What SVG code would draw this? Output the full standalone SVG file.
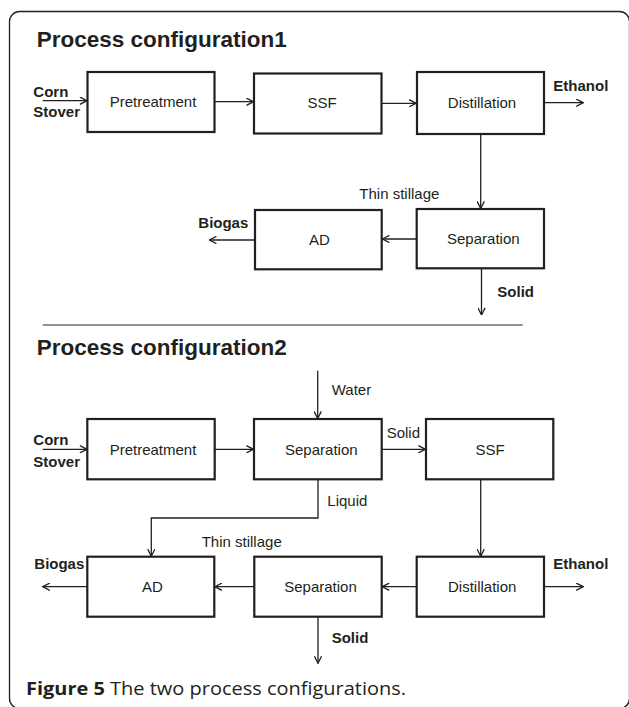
<svg xmlns="http://www.w3.org/2000/svg" width="629" height="707" viewBox="0 0 629 707">
<style>
.box{fill:#fff;stroke:#231f20;stroke-width:2.2}
.lbl{font-family:"Liberation Sans",Arial,sans-serif;font-size:15px;fill:#231f20}
.b{font-weight:bold}
.mid{text-anchor:middle}
.title{font-family:"Liberation Sans",Arial,sans-serif;font-size:22.5px;font-weight:bold;fill:#231f20}
.con{fill:none;stroke:#231f20;stroke-width:1.3;marker-end:url(#ah)}
</style>
<defs>
<marker id="ah" markerUnits="userSpaceOnUse" viewBox="0 0 8 8" refX="7.6" refY="4" markerWidth="8" markerHeight="8" orient="auto">
<path d="M0.5,0.4 L7.6,4 L0.5,7.6" fill="none" stroke="#231f20" stroke-width="1.3"/>
</marker>
</defs>
<rect x="9.5" y="11.5" width="620" height="697" rx="10" ry="10" fill="none" stroke="#231f20" stroke-width="1.3"/>
<text class="title" x="36.7" y="46.7">Process configuration1</text>
<text class="title" x="36.7" y="355">Process configuration2</text>
<line x1="42.7" y1="325" x2="522.7" y2="325" stroke="#6d6e71" stroke-width="1.4"/>

<g id="connectors">
<line class="con" x1="42.7" y1="100.7" x2="87" y2="100.7"/>
<line class="con" x1="214.7" y1="101.7" x2="253.5" y2="101.7"/>
<line class="con" x1="381.7" y1="103.3" x2="416.2" y2="103.3"/>
<line class="con" x1="544" y1="102.7" x2="583.3" y2="102.7"/>
<line class="con" x1="480.7" y1="134" x2="480.7" y2="208.5"/>
<line class="con" x1="416.7" y1="239" x2="382.3" y2="239"/>
<line class="con" x1="255" y1="240" x2="209.3" y2="240"/>
<line class="con" x1="481.5" y1="268.3" x2="481.5" y2="315"/>

<line class="con" x1="42.7" y1="449.3" x2="87" y2="449.3"/>
<line class="con" x1="214.7" y1="449.3" x2="253.5" y2="449.3"/>
<line class="con" x1="317.7" y1="370.7" x2="317.7" y2="418.5"/>
<line class="con" x1="381.7" y1="449.3" x2="425.5" y2="449.3"/>
<polyline class="con" points="318,479.3 318,518 151.3,518 151.3,556.2"/>
<line class="con" x1="480.7" y1="479.3" x2="480.7" y2="556.2"/>
<line class="con" x1="416.7" y1="586.7" x2="382.2" y2="586.7"/>
<line class="con" x1="254.3" y1="586.7" x2="214.8" y2="586.7"/>
<line class="con" x1="87.3" y1="586.7" x2="42.7" y2="586.7"/>
<line class="con" x1="544" y1="586.7" x2="583.3" y2="586.7"/>
<line class="con" x1="318" y1="616.7" x2="318" y2="663.3"/>
</g>

<g id="c1-pretreatment"><rect class="box" x="87.5" y="72" width="127" height="60"/><text class="lbl mid" x="153" y="107.3">Pretreatment</text></g>
<g id="c1-ssf"><rect class="box" x="254" y="73.5" width="127.5" height="60"/><text class="lbl mid" x="322" y="108.3">SSF</text></g>
<g id="c1-distillation"><rect class="box" x="417" y="72" width="127" height="62"/><text class="lbl mid" x="482" y="108.3">Distillation</text></g>
<g id="c1-ad"><rect class="box" x="255" y="210" width="126.7" height="59.3"/><text class="lbl mid" x="319.3" y="245">AD</text></g>
<g id="c1-separation"><rect class="box" x="416.7" y="209" width="127.3" height="59.3"/><text class="lbl mid" x="483.3" y="244.3">Separation</text></g>

<g id="c2-pretreatment"><rect class="box" x="87.3" y="419" width="127.4" height="60.3"/><text class="lbl mid" x="153" y="455">Pretreatment</text></g>
<g id="c2-separation1"><rect class="box" x="254" y="419" width="127.7" height="60.3"/><text class="lbl mid" x="321.3" y="455">Separation</text></g>
<g id="c2-ssf"><rect class="box" x="426" y="419" width="127.3" height="60.3"/><text class="lbl mid" x="490" y="455">SSF</text></g>
<g id="c2-ad"><rect class="box" x="87.3" y="556.7" width="127" height="60"/><text class="lbl mid" x="152.5" y="591.7">AD</text></g>
<g id="c2-separation2"><rect class="box" x="254.3" y="556.7" width="127.4" height="60"/><text class="lbl mid" x="320.5" y="591.7">Separation</text></g>
<g id="c2-distillation"><rect class="box" x="416.7" y="556.7" width="127.3" height="60"/><text class="lbl mid" x="482.2" y="591.7">Distillation</text></g>

<g id="labels">
<text class="lbl b" x="33.3" y="96.5">Corn</text>
<text class="lbl b" x="33.3" y="117.3">Stover</text>
<text class="lbl b" x="553.3" y="90.7">Ethanol</text>
<text class="lbl" x="359.3" y="199.3">Thin stillage</text>
<text class="lbl b" x="198.3" y="227.7">Biogas</text>
<text class="lbl b" x="497.3" y="296.7">Solid</text>
<text class="lbl" x="331.7" y="395">Water</text>
<text class="lbl b" x="33.3" y="445">Corn</text>
<text class="lbl b" x="33.3" y="466.5">Stover</text>
<text class="lbl" x="386.7" y="437.7">Solid</text>
<text class="lbl" x="327.3" y="506">Liquid</text>
<text class="lbl" x="201.7" y="547.3">Thin stillage</text>
<text class="lbl b" x="34.3" y="569.3">Biogas</text>
<text class="lbl b" x="553.3" y="569.3">Ethanol</text>
<text class="lbl b" x="331.7" y="643.3">Solid</text>
</g>
<text x="26" y="695" font-family="'Open Sans','Liberation Sans',sans-serif" font-size="18" fill="#231f20" textLength="380" lengthAdjust="spacingAndGlyphs"><tspan font-weight="bold">Figure 5</tspan> The two process configurations.</text>
</svg>
